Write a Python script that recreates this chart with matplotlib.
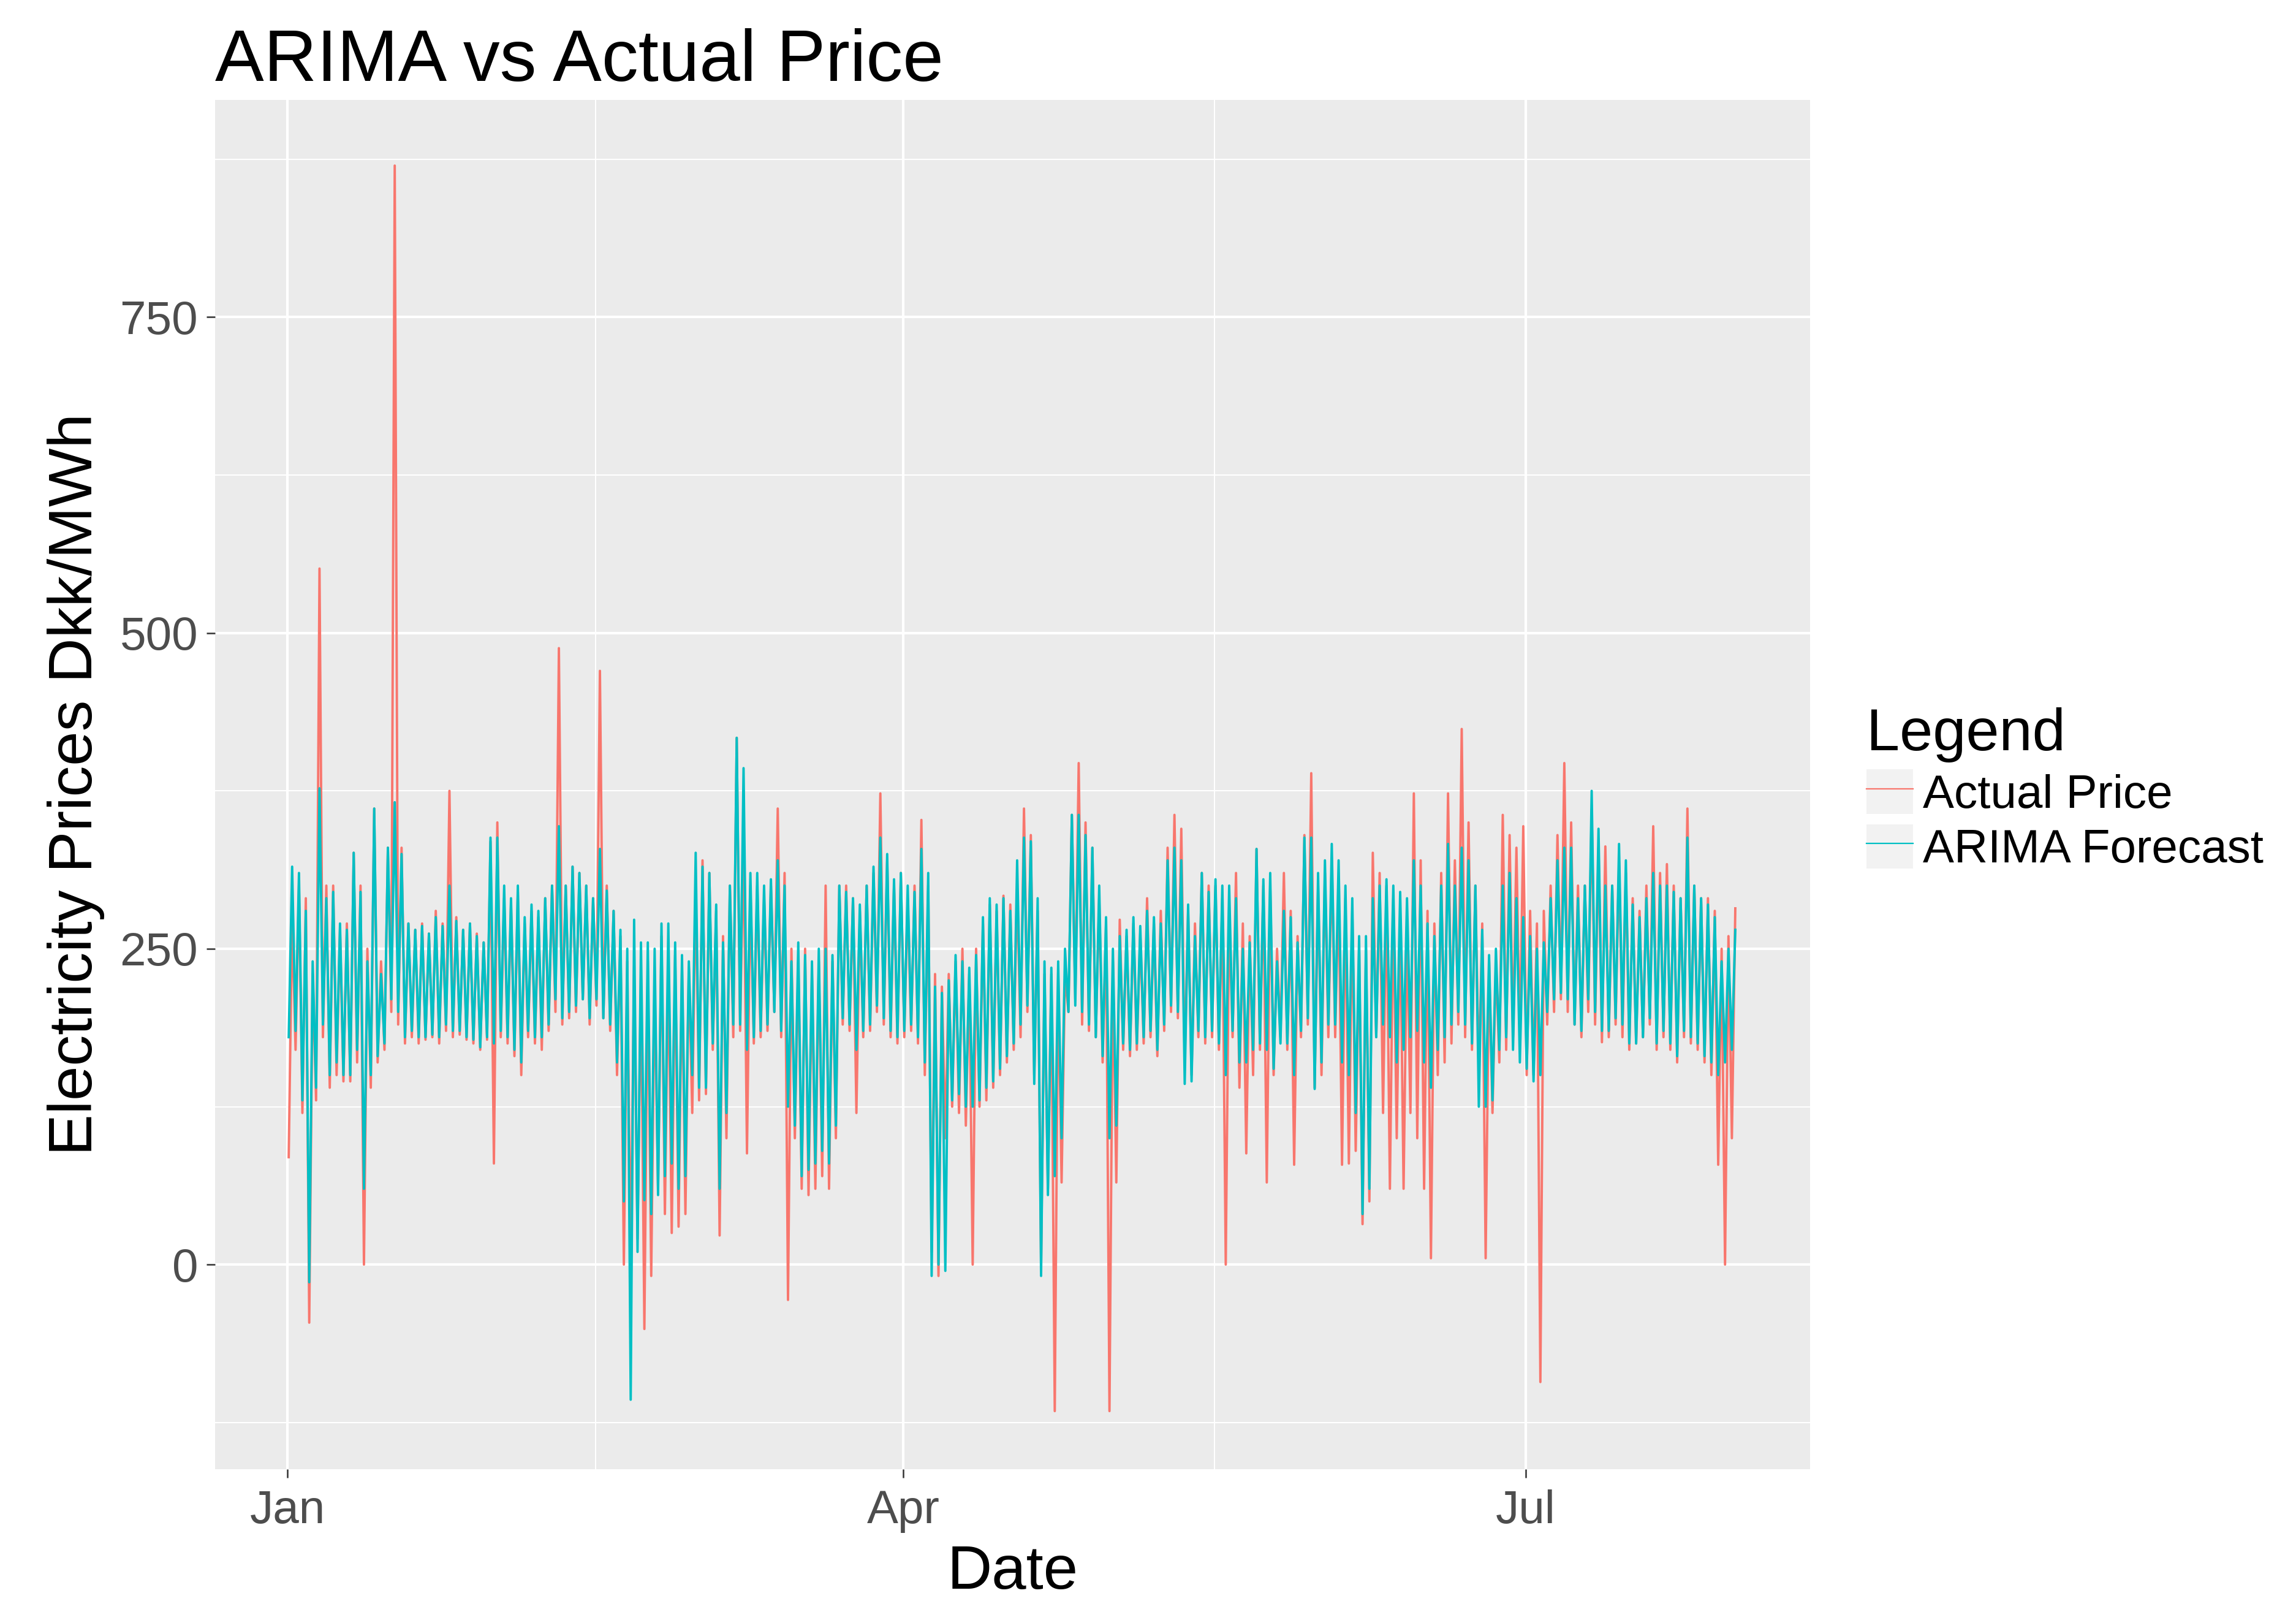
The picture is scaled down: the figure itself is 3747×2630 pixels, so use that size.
import numpy as np
import pandas as pd
import matplotlib
matplotlib.use("Agg")
import matplotlib.pyplot as plt
import matplotlib.dates as mdates
from matplotlib.patches import Rectangle
from matplotlib.lines import Line2D
from matplotlib.legend_handler import HandlerTuple
from matplotlib.ticker import FixedLocator

plt.rcParams['font.family'] = ['Liberation Sans', 'DejaVu Sans']

# daily readings (Dkk/MWh), one low and one high per day, Jan 1 .. Jul 31
start_date = "2015-01-01"
n_days = 212

actual_low = [
    85, 170, 120, -46, 130, 180, 140, 150, 145, 145,
    160, 0, 140, 160, 170, 200, 190, 175, 180, 175,
    178, 180, 175, 185, 180, 182, 178, 175, 170, 178,
    80, 180, 175, 165, 150, 180, 175, 170, 185, 200,
    190, 195, 200, 210, 190, 205, 195, 185, 150, 0,
    0, 20, -51, -9, 60, 40, 25, 30, 40, 120,
    130, 135, 170, 23, 100, 180, 185, 88, 175, 180,
    185, 200, 180, -28, 100, 60, 55, 60, 70, 60,
    100, 190, 185, 120, 180, 185, 200, 190, 180, 175,
    180, 185, 175, 150, 10, -9, 100, 125, 120, 110,
    0, 125, 130, 140, 150, 160, 170, 180, 200, 150,
    0, 60, -116, 65, 200, 210, 190, 185, 180, 160,
    -116, 65, 170, 165, 170, 175, 180, 165, 185, 200,
    195, 160, 150, 180, 175, 180, 170, 0, 180, 140,
    88, 150, 170, 65, 150, 180, 170, 79, 180, 190,
    140, 150, 180, 180, 79, 80, 90, 32, 50, 180,
    120, 60, 100, 60, 120, 100, 60, 5, 150, 160,
    175, 190, 180, 170, 150, 5, 120, 160, 170, 180,
    175, 150, 150, -93, 190, 200, 210, 200, 190, 180,
    200, 190, 176, 180, 190, 180, 170, 175, 180, 190,
    170, 180, 170, 160, 180, 175, 170, 160, 150, 79, 0, 100,
]
actual_high = [
    275, 300, 290, 230, 551, 300, 300, 265, 270, 326,
    300, 250, 361, 240, 330, 870, 330, 270, 265, 270,
    262, 280, 270, 375, 275, 265, 270, 262, 255, 335,
    350, 290, 285, 295, 270, 280, 275, 290, 300, 488,
    300, 315, 310, 300, 290, 470, 300, 280, 260, 240,
    236, 230, 240, 225, 260, 240, 245, 235, 235, 300,
    320, 310, 280, 260, 300, 417, 340, 300, 300, 290,
    300, 361, 310, 250, 240, 250, 230, 240, 300, 240,
    300, 300, 290, 280, 300, 310, 373, 320, 300, 310,
    290, 300, 352, 300, 230, 220, 230, 240, 250, 230,
    250, 270, 285, 280, 292, 285, 300, 361, 340, 280,
    230, 230, 231, 231, 356, 397, 350, 330, 290, 270,
    240, 273, 260, 270, 262, 290, 270, 280, 330, 356,
    345, 280, 270, 310, 300, 300, 290, 280, 310, 270,
    260, 329, 300, 300, 250, 310, 280, 260, 340, 389,
    300, 310, 320, 300, 290, 280, 250, 250, 326, 310,
    300, 290, 280, 270, 373, 320, 280, 270, 310, 373,
    320, 424, 350, 300, 270, 240, 240, 356, 340, 330,
    347, 280, 270, 280, 300, 340, 397, 350, 300, 300,
    360, 330, 331, 300, 320, 310, 290, 280, 300, 347,
    310, 317, 300, 290, 361, 300, 290, 290, 280, 250, 260, 282,
]
arima_low = [
    180, 185, 130, -14, 140, 190, 150, 160, 150, 150,
    170, 60, 150, 165, 175, 210, 200, 180, 185, 180,
    180, 182, 180, 190, 185, 185, 180, 178, 172, 180,
    175, 185, 180, 170, 160, 185, 180, 180, 190, 210,
    195, 200, 205, 210, 195, 210, 195, 190, 160, 50,
    -107, 10, 51, 40, 55, 70, 80, 60, 70, 150,
    140, 140, 175, 60, 120, 190, 190, 170, 180, 185,
    190, 200, 185, 125, 110, 70, 75, 80, 90, 80,
    110, 195, 190, 170, 185, 190, 205, 195, 185, 180,
    185, 190, 180, 160, -9, 0, -5, 130, 135, 125,
    125, 130, 140, 145, 155, 165, 175, 190, 205, 143,
    -9, 55, 70, 100, 200, 205, 200, 190, 180, 165,
    100, 110, 175, 170, 175, 180, 185, 170, 190, 205,
    200, 143, 145, 185, 180, 185, 175, 150, 185, 160,
    160, 170, 175, 170, 155, 175, 175, 150, 185, 195,
    139, 160, 190, 190, 160, 150, 120, 40, 60, 180,
    190, 180, 160, 170, 180, 185, 160, 140, 170, 180,
    190, 200, 190, 175, 125, 125, 130, 170, 180, 170,
    160, 155, 145, 150, 200, 210, 215, 210, 190, 185,
    210, 200, 185, 185, 195, 190, 175, 175, 180, 195,
    175, 185, 175, 165, 185, 180, 175, 165, 160, 150, 160, 170,
]
arima_high = [
    315, 310, 280, 240, 377, 290, 295, 270, 265, 326,
    295, 240, 361, 230, 330, 366, 325, 270, 265, 268,
    262, 275, 268, 300, 272, 265, 270, 260, 255, 338,
    338, 300, 290, 300, 275, 285, 280, 290, 300, 347,
    300, 315, 310, 300, 290, 329, 296, 280, 265, 250,
    273, 255, 255, 250, 270, 270, 255, 245, 240, 326,
    315, 310, 285, 255, 300, 417, 393, 310, 310, 300,
    305, 320, 300, 240, 255, 245, 240, 250, 250, 245,
    300, 295, 290, 285, 300, 315, 338, 325, 305, 310,
    300, 295, 329, 310, 220, 215, 225, 245, 240, 235,
    245, 275, 290, 285, 290, 280, 320, 338, 335, 290,
    240, 235, 240, 250, 356, 356, 340, 330, 300, 275,
    250, 260, 265, 275, 268, 280, 275, 270, 320, 330,
    320, 285, 260, 310, 295, 305, 300, 300, 290, 250,
    255, 329, 305, 310, 240, 280, 275, 255, 338, 338,
    310, 320, 333, 320, 300, 290, 260, 260, 290, 300,
    305, 300, 295, 290, 320, 300, 270, 260, 300, 333,
    300, 330, 320, 300, 265, 245, 250, 300, 310, 290,
    275, 260, 250, 255, 290, 320, 330, 330, 290, 300,
    375, 345, 300, 300, 333, 320, 285, 275, 290, 310,
    300, 300, 295, 290, 338, 300, 290, 285, 275, 240, 250, 265,
]

series_labels = ["Actual Price", "ARIMA Forecast"]
series_colors = ["#F8766D", "#00BFC4"]
month_breaks = ["2015-01-01", "2015-04-01", "2015-07-01"]
month_minor = ["2015-02-15 00:00", "2015-05-16 12:00"]
y_breaks = [0, 250, 500, 750]
y_minor = [-125, 125, 375, 625, 875]

# each day: low in the night, high in the afternoon
days = mdates.date2num(pd.date_range(start_date, periods=n_days, freq="D"))
x = np.column_stack([days + 4 / 24, days + 16 / 24]).ravel()
y_act = np.column_stack([actual_low, actual_high]).ravel()
y_fc = np.column_stack([arima_low, arima_high]).ravel()

W, H = 3748, 2630
fig = plt.figure(figsize=(W / 100, H / 100), dpi=100)
ax = fig.add_axes([351 / W, 1 - 2397 / H, (2954 - 351) / W, (2397 - 163) / H])
ax.set_facecolor("#EBEBEB")

ax.plot(x, y_act, color=series_colors[0], lw=2.8)
ax.plot(x, y_fc, color=series_colors[1], lw=2.8)

x0 = days[0]
ax.set_xlim(x0 - 10.6, x0 + 222.6)
ax.set_ylim(-162, 922)

ax.xaxis.set_major_locator(FixedLocator(mdates.date2num(pd.to_datetime(month_breaks))))
ax.xaxis.set_major_formatter(mdates.DateFormatter("%b"))
ax.xaxis.set_minor_locator(FixedLocator(mdates.date2num(pd.to_datetime(month_minor))))
ax.yaxis.set_major_locator(FixedLocator(y_breaks))
ax.yaxis.set_minor_locator(FixedLocator(y_minor))

ax.grid(which="major", color="white", lw=3.0)
ax.grid(which="minor", color="white", lw=1.5)
ax.set_axisbelow(True)
for s in ax.spines.values():
    s.set_visible(False)
ax.tick_params(which="major", length=10, width=1.8, color="#333333",
               labelsize=55, labelcolor="#4D4D4D")
ax.tick_params(axis="x", which="major", pad=14)
ax.tick_params(axis="y", which="major", pad=10)
ax.tick_params(which="minor", length=0)

fig.text(351 / W, 1 - 132 / H, "ARIMA vs Actual Price", fontsize=86,
         ha="left", va="baseline")
fig.text((351 + 2954) / 2 / W, 1 - 2592 / H, "Date", fontsize=73,
         ha="center", va="baseline")
fig.text(124 / W, 1 - 1280 / H, "Electricity Prices Dkk/MWh", fontsize=73,
         rotation=90, ha="center", va="center")

# legend keys: grey box with a thin line, as in ggplot
handles = []
for c in series_colors:
    bg = Rectangle((0, 0), 1, 1, facecolor="#F2F2F2", edgecolor="none")
    handles.append((bg, Line2D([], [], color=c, lw=1.6)))
leg = fig.legend(handles, series_labels,
                 handler_map={tuple: HandlerTuple(ndivide=1, pad=0)},
                 loc="upper left", bbox_to_anchor=(3046 / W, 1 - 1154 / H),
                 frameon=False, title="Legend", alignment="left",
                 fontsize=55, title_fontsize=70, handlelength=1.0,
                 handleheight=1.08, handletextpad=0.2, labelspacing=0.15,
                 borderpad=0, borderaxespad=0)

fig.savefig("out.png", dpi=100)
